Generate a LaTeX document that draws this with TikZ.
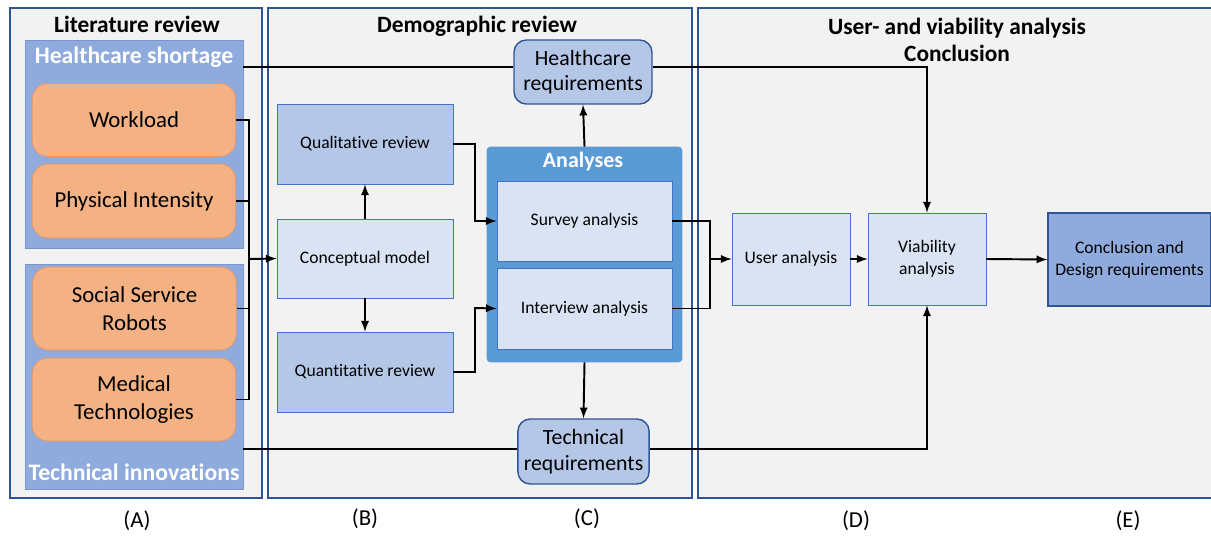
\documentclass[tikz,border=0pt]{standalone}
\usepackage{fontspec}
\setmainfont[Ligatures=NoCommon]{Carlito}
\usepackage{xcolor}
\usepackage{tikz}
\definecolor{panelgray}{RGB}{242,242,242}
\definecolor{panelblue}{RGB}{47,85,151}
\definecolor{groupblue}{RGB}{143,170,220}
\definecolor{groupedge}{RGB}{120,150,205}
\definecolor{boxorange}{RGB}{244,177,131}
\definecolor{lineorange}{RGB}{236,150,95}
\definecolor{paleblue}{RGB}{218,227,243}
\definecolor{midblue}{RGB}{180,199,231}
\definecolor{edgeblue}{RGB}{68,114,196}
\definecolor{anablue}{RGB}{91,155,213}

\tikzset{
  panel/.style={draw=panelblue, line width=1.3pt, fill=panelgray},
  group/.style={draw=groupedge, fill=groupblue, minimum width=4.36cm},
  factor/.style={rounded corners=9pt, draw=lineorange, fill=boxorange, minimum width=4.07cm,
    align=center, font=\fontsize{13}{16}\selectfont},
  stage/.style={draw=edgeblue, fill=paleblue, align=center, font=\fontsize{10}{12.5}\selectfont},
  review/.style={stage, fill=midblue, minimum width=3.52cm, minimum height=1.6cm},
  reqbox/.style={rounded corners=7pt, draw=panelblue, line width=0.8pt, fill=midblue,
    align=center, font=\fontsize{12.4}{14.5}\selectfont},
  heading/.style={font=\bfseries\fontsize{13.3}{15.5}\selectfont, align=center},
  whitehead/.style={font=\bfseries\fontsize{13.5}{15}\selectfont, text=white},
  tag/.style={font=\fontsize{13}{15}\selectfont},
  conn/.style={line width=1.1pt, >=latex}
}

\begin{document}
\begin{tikzpicture}[x=0.02cm, y=-0.02cm]
\useasboundingbox (0,0) rectangle (1211,535);

% three stages
\draw[panel] (10,8) rectangle (262,498);
\draw[panel] (268,8) rectangle (692,498);
\draw[panel] (698,8) rectangle (1216,498);
\node[heading] (litT) at (137,24) {Literature review};
\node[heading] (demT) at (477,26) {Demographic review};
\node[heading] (useT) at (957,40) {User- and viability analysis\\Conclusion};

% literature review
\node[group, minimum height=4.16cm] (short) at (134,144) {};
\node[whitehead] (shortT) at (134,57) {Healthcare shortage};
\node[group, minimum height=4.5cm] (innov) at (134,376.5) {};
\node[whitehead] (innovT) at (134,472) {Technical innovations};
\node[factor, minimum height=1.46cm] (work) at (134,120) {Workload};
\node[factor, minimum height=1.48cm] (phys) at (134,201) {Physical Intensity};
\node[factor, minimum height=1.66cm] (robot) at (134.5,308.5) {Social Service\\Robots};
\node[factor, minimum height=1.66cm] (medic) at (134,399.5) {Medical\\Technologies};

% demographic review
\node[review] (qual) at (365,144) {Qualitative review};
\node[stage, minimum width=3.52cm, minimum height=1.58cm] (concept) at (365,258.5) {Conceptual model};
\node[review] (quant) at (365,372) {Quantitative review};
\node[draw=anablue, fill=anablue, rounded corners=2pt, minimum width=3.9cm, minimum height=4.3cm] (ana) at (584.5,254.5) {};
\node[whitehead, font=\bfseries\fontsize{12.5}{15}\selectfont] (anaT) at (583,162) {Analyses};
\node[stage, minimum width=3.5cm, minimum height=1.6cm] (survey) at (584.5,221) {Survey analysis};
\node[stage, minimum width=3.5cm, minimum height=1.62cm] (inter) at (584.5,308.5) {Interview analysis};
\node[reqbox, minimum width=2.76cm, minimum height=1.28cm] (hcreq) at (583,72) {Healthcare\\requirements};
\node[reqbox, minimum width=2.58cm, minimum height=1.3cm] (techreq) at (583.5,451.5) {Technical\\requirements};

% user- and viability analysis
\node[stage, minimum width=2.36cm, minimum height=1.84cm] (user) at (791,259) {User analysis};
\node[stage, minimum width=2.36cm, minimum height=1.84cm] (viab) at (927,259) {Viability\\analysis};
\node[stage, draw=panelblue, line width=0.8pt, fill=groupblue, minimum width=3.26cm, minimum height=1.86cm] (concl) at (1129.5,259.5) {Conclusion and\\Design requirements};

% connectors
\coordinate (join) at (249,259);
\coordinate (merge) at (710,259);
\coordinate (hsline) at (243,67);
\coordinate (tiline) at (243,449);
\draw[conn] (work.east) -| (join);
\draw[conn] (phys.east) -| (join);
\draw[conn] (robot.east) -| (join);
\draw[conn] (medic.east) -| (join);
\draw[conn, ->] (join) -- (concept.west);
\draw[conn, ->] (concept.north) -- (qual.south);
\draw[conn, ->] (concept.south) -- (quant.south |- quant.north);
\draw[conn, ->] (qual.east) -| (475,221) -- (survey.west);
\draw[conn, ->] (quant.east) -| (475,308) -- (inter.west);
\draw[conn, ->] (ana.north) -- (hcreq.south);
\draw[conn, ->] (ana.south) -- (techreq.north);
\draw[conn] (survey.east) -| (merge);
\draw[conn] (inter.east) -| (merge);
\draw[conn, ->] (merge) -- (user.west);
\draw[conn, ->] (user.east) -- (viab.west);
\draw[conn, ->] (viab.east) -- (concl.west);
\draw[conn] (hsline) -- (hsline -| hcreq.west);
\draw[conn, ->] (hsline -| hcreq.east) -| (viab.north);
\draw[conn] (tiline) -- (tiline -| techreq.west);
\draw[conn, ->] (tiline -| techreq.east) -| (viab.south);

% stage letters
\node[tag] (la) at (137,521) {(A)};
\node[tag] (lb) at (365,519) {(B)};
\node[tag] (lc) at (587,519) {(C)};
\node[tag] (ld) at (856,521) {(D)};
\node[tag] (le) at (1128,521) {(E)};
\end{tikzpicture}
\end{document}
